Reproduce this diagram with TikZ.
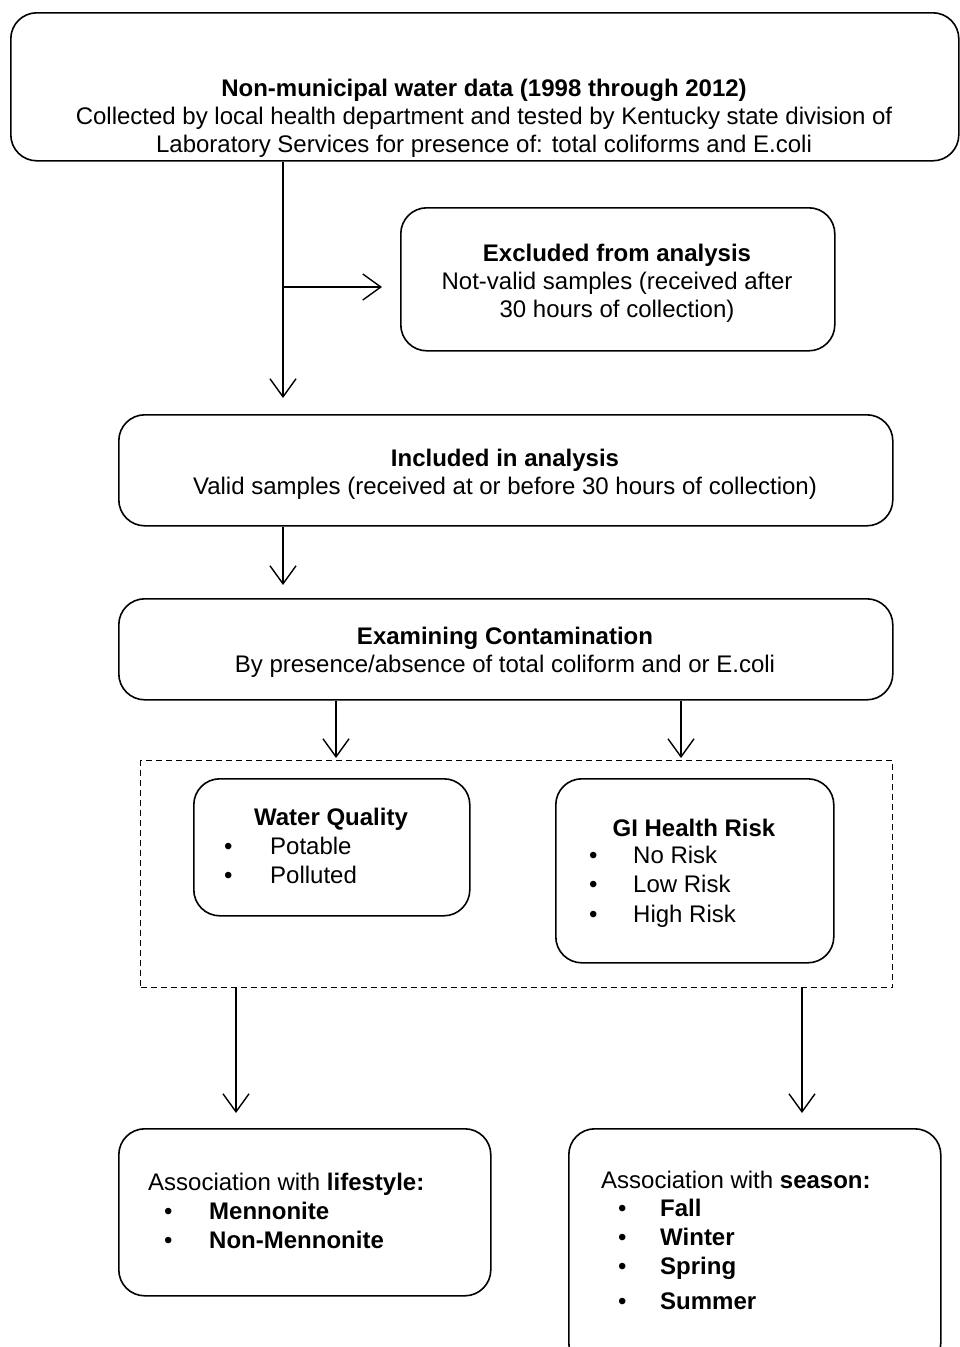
\documentclass[tikz,border=0pt]{standalone}
\usepackage{fontspec}
\setmainfont{Liberation Sans}
\usetikzlibrary{arrows.meta}
\begin{document}
\begin{tikzpicture}[x=1pt,y=-1pt,
  rbox/.style 2 args={draw, line width=1.6pt, rounded corners=26pt, inner sep=0pt, anchor=north west, minimum width=#1pt, minimum height=#2pt},
  txt/.style={font=\fontsize{24}{28}\selectfont, align=center, inner sep=0pt},
  item/.style={font=\fontsize{24}{28}\selectfont, inner sep=0pt, anchor=mid west},
  arr/.style={line width=1.4pt, -{Straight Barb[length=18pt,width=26pt,line width=1.4pt]}}]
\useasboundingbox (0,0) rectangle (960,1347);
\begin{scope}
\clip (0,0) rectangle (960,1347);
% boxes
\node[rbox={948}{148}] (top) at (10,12) {};
\node[rbox={434}{143}] (exc) at (400,207) {};
\node[rbox={774}{111}] (inc) at (118,414) {};
\node[rbox={774}{101}] (exa) at (118,598) {};
\node[draw, line width=1.2pt, dash pattern=on 6pt off 4pt, inner sep=0pt, anchor=north west, minimum width=752pt, minimum height=227pt] (dash) at (140,760) {};
\node[rbox={276}{137}] (wq) at (193,778) {};
\node[rbox={278}{184}] (gi) at (555,778) {};
\node[rbox={372}{167}] (life) at (118,1128) {};
\node[rbox={372}{240}] (seas) at (568,1128) {};
\end{scope}
% texts
\node[txt] (ttop) at (484,118) {\textbf{Non-municipal water data (1998 through 2012)}\\Collected by local health department and tested by Kentucky state division of\\Laboratory Services for presence of: total coliforms and E.coli};
\node[txt] (texc) at (617,283) {\textbf{Excluded from analysis}\\Not-valid samples (received after\\30 hours of collection)};
\node[txt] (tinc) at (505,474) {\textbf{Included in analysis}\\Valid samples (received at or before 30 hours of collection)};
\node[txt] (texa) at (505,652) {\textbf{Examining Contamination}\\By presence/absence of total coliform and or E.coli};
% water quality
\node[txt] (twq) at (331,819) {\textbf{Water Quality}};
\node[item] (wq1) at (224,852) {\makebox[46pt][l]{•}Potable};
\node[item] (wq2) at (224,881) {\makebox[46pt][l]{•}Polluted};
% GI
\node[txt] (tgi) at (694,828) {\textbf{GI Health Risk}};
\node[item] (gi1) at (589,861) {\makebox[44pt][l]{•}No Risk};
\node[item] (gi2) at (589,890) {\makebox[44pt][l]{•}Low Risk};
\node[item] (gi3) at (589,920) {\makebox[44pt][l]{•}High Risk};
% lifestyle
\node[item] (tlife) at (148,1188) {Association with \textbf{lifestyle:}};
\node[item] (l1) at (164,1217) {\makebox[45pt][l]{•}\textbf{Mennonite}};
\node[item] (l2) at (164,1246) {\makebox[45pt][l]{•}\textbf{Non-Mennonite}};
% season
\node[item] (tseas) at (601,1186) {Association with \textbf{season:}};
\node[item] (s1) at (618,1214) {\makebox[42pt][l]{•}\textbf{Fall}};
\node[item] (s2) at (618,1243) {\makebox[42pt][l]{•}\textbf{Winter}};
\node[item] (s3) at (618,1272) {\makebox[42pt][l]{•}\textbf{Spring}};
\node[item] (s4) at (618,1307) {\makebox[42pt][l]{•}\textbf{Summer}};
% connectors
\coordinate (c1) at (283,0);
\coordinate (c2) at (336,0);
\coordinate (c3) at (681,0);
\coordinate (c4) at (236,0);
\coordinate (c5) at (802,0);
\coordinate (br) at (283,287);
\draw[arr, shorten >=16pt] (top.south -| c1) -- (inc.north -| c1);
\draw[arr, shorten >=18pt] (br) -- (exc.west |- br);
\draw[arr, shorten >=13pt] (inc.south -| c1) -- (exa.north -| c1);
\draw[arr, shorten >=2pt] (exa.south -| c2) -- (dash.north -| c2);
\draw[arr, shorten >=2pt] (exa.south -| c3) -- (dash.north -| c3);
\draw[arr, shorten >=15pt] (dash.south -| c4) -- (life.north -| c4);
\draw[arr, shorten >=15pt] (dash.south -| c5) -- (seas.north -| c5);
\end{tikzpicture}
\end{document}
